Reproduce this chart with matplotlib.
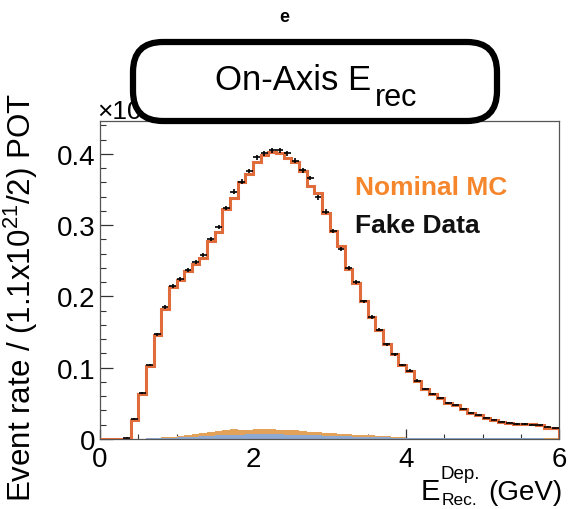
import numpy as np
import matplotlib
matplotlib.use("Agg")
import matplotlib.pyplot as plt
from matplotlib.patches import FancyBboxPatch
from matplotlib.ticker import MultipleLocator, FuncFormatter

plt.rcParams['font.family'] = ['Liberation Sans', 'DejaVu Sans']
plt.rcParams['mathtext.fontset'] = 'custom'
plt.rcParams['mathtext.rm'] = 'Liberation Sans'
plt.rcParams['mathtext.it'] = 'Liberation Sans:italic'
plt.rcParams['mathtext.bf'] = 'Liberation Sans:bold'

# ---- data (bins of 0.1 GeV from 0 to 6) ----
bin_edges = np.linspace(0.0, 6.0, 61)

nominal_mc = [0, 0, 0, 0.0, 0.027, 0.063, 0.103, 0.146, 0.182, 0.213,
              0.223, 0.235, 0.246, 0.254, 0.278, 0.291, 0.322, 0.338, 0.361, 0.372,
              0.389, 0.398, 0.402, 0.401, 0.394, 0.388, 0.376, 0.355, 0.345, 0.317,
              0.292, 0.271, 0.238, 0.219, 0.194, 0.171, 0.153, 0.133, 0.119, 0.104,
              0.096, 0.082, 0.070, 0.063, 0.057, 0.051, 0.047, 0.042, 0.037, 0.033,
              0.029, 0.027, 0.024, 0.022, 0.021, 0.021, 0.021, 0.019, 0.016, 0.015]

fake_data = [np.nan, np.nan, np.nan, 0.002, 0.028, 0.064, 0.104, 0.147, 0.185, 0.215,
             0.224, 0.237, 0.248, 0.258, 0.280, 0.297, 0.324, 0.347, 0.361, 0.376,
             0.395, 0.401, 0.405, 0.405, 0.401, 0.390, 0.377, 0.366, 0.339, 0.319,
             0.292, 0.266, 0.240, 0.220, 0.193, 0.171, 0.153, 0.133, 0.119, 0.104,
             0.096, 0.082, 0.070, 0.063, 0.057, 0.051, 0.047, 0.042, 0.037, 0.033,
             0.030, 0.027, 0.024, 0.023, 0.021, 0.021, 0.020, 0.019, 0.017, 0.015]

bkg_blue = [0, 0, 0, 0, 0, 0.0003, 0.0008, 0.0012, 0.0016, 0.002,
            0.0025, 0.003, 0.0035, 0.004, 0.0045, 0.005, 0.0058, 0.006, 0.0062, 0.0065,
            0.0068, 0.0068, 0.0066, 0.0064, 0.0062, 0.006, 0.0057, 0.0053, 0.005, 0.0047,
            0.0044, 0.004, 0.0037, 0.0034, 0.0031, 0.0028, 0.0025, 0.0022, 0.002, 0.0018,
            0.0016, 0.0015, 0.0014, 0.0013, 0.0012, 0.0012, 0.0011, 0.0011, 0.001, 0.001,
            0.001, 0.0009, 0.0009, 0.0009, 0.0008, 0.0008, 0.0008, 0.0008, 0.0007, 0.0007]

bkg_orange = [0, 0, 0, 0, 0, 0.0002, 0.0004, 0.0006, 0.0008, 0.001,
              0.0015, 0.0025, 0.003, 0.0045, 0.005, 0.006, 0.0072, 0.0075, 0.0066, 0.0067,
              0.0072, 0.007, 0.0069, 0.0066, 0.0066, 0.006, 0.0055, 0.005, 0.0045, 0.004,
              0.0036, 0.0032, 0.0029, 0.0028, 0.0027, 0.0022, 0.002, 0.0018, 0.0013, 0.0007,
              0.0004, 0.0003, 0.0002, 0.0002, 0.0002, 0.0001, 0.0002, 0.0001, 0.0002, 0.0001,
              0.0001, 0.0001, 0.0001, 0.0001, 0.0002, 0.0001, 0.0001, 0.0001, 0.0001, 0.0001]

x_ticks = [0, 2, 4, 6]
y_ticks = [0, 0.1, 0.2, 0.3, 0.4]

# ---- figure ----
W, H = 568, 510
fig = plt.figure(figsize=(W / 100, H / 100), dpi=100)
ax = fig.add_axes([100 / W, 1 - 440 / H, 459 / W, 318 / H])

centers = 0.5 * (bin_edges[:-1] + bin_edges[1:])
blue = np.array(bkg_blue)
orange = np.array(bkg_orange)

ax.stairs(blue + orange, bin_edges, baseline=blue, fill=True,
          color='#e3a25a', lw=0, zorder=2)
ax.stairs(blue, bin_edges, baseline=0, fill=True, color='#8eaad2', lw=0, zorder=2)
ax.stairs(nominal_mc, bin_edges, color='#e06c3c', lw=2.2, zorder=3)

data = np.array(fake_data)
yerr = 0.0055 * np.sqrt(np.nan_to_num(data))
ax.errorbar(centers, data, xerr=0.045, yerr=yerr, fmt='none', ecolor='black',
            elinewidth=1.2, capsize=0, zorder=4)

ax.set_xlim(0, 6)
ax.set_ylim(0, 0.446)
ax.set_xticks(x_ticks)
ax.set_yticks(y_ticks)
ax.xaxis.set_minor_locator(MultipleLocator(0.5))
ax.yaxis.set_minor_locator(MultipleLocator(0.02))
ax.yaxis.set_major_formatter(FuncFormatter(lambda v, p: '0' if abs(v) < 1e-9 else f'{v:.1f}'))
ax.xaxis.set_major_formatter(FuncFormatter(lambda v, p: f'{v:.0f}'))

ax.tick_params(axis='both', which='both', direction='in', labelsize=20, color='#333333')
ax.tick_params(axis='y', which='major', length=9.4, width=0.9, pad=3)
ax.tick_params(axis='y', which='minor', length=4.3, width=0.8)
ax.tick_params(axis='x', which='major', length=7.2, width=0.9, pad=5)
ax.tick_params(axis='x', which='minor', length=3.6, width=0.8)
for s in ax.spines.values():
    s.set_linewidth(0.9)
    s.set_color('#555555')

# legend text
ax.text((355 - 100) / 459, (440 - 188) / 318, 'Nominal MC', transform=ax.transAxes,
        color='#f5862c', fontsize=19, fontweight='bold', va='center', ha='left')
ax.text((355 - 100) / 459, (440 - 226) / 318, 'Fake Data', transform=ax.transAxes,
        color='#111111', fontsize=19, fontweight='bold', va='center', ha='left')

# axis titles
fig.text(21 / W, 1 - 298 / H, 'Event rate / (1.1x10$^{21}$/2) POT', rotation=90,
         fontsize=22.5, ha='center', va='center')
fig.text(421 / W, 1 - 500 / H, 'E', fontsize=21, ha='left', va='baseline')
fig.text(440 / W, 1 - 479 / H, 'Dep.', fontsize=13.5, ha='left', va='baseline')
fig.text(442 / W, 1 - 505 / H, 'Rec.', fontsize=12.5, ha='left', va='baseline')
fig.text(562 / W, 1 - 500 / H, '(GeV)', fontsize=20, ha='right', va='baseline')

# exponent label (partially covered by box)
fig.text(97 / W, 1 - 119 / H, '×10', fontsize=19, ha='left', va='baseline')

# panel letter
fig.text(284 / W, 1 - 22 / H, 'e', fontsize=13, fontweight='bold', ha='center', va='baseline')

# rounded title box
box = FancyBboxPatch((1.33, (H - 122) / 100), 3.64, 0.79,
                     boxstyle='round,pad=0,rounding_size=0.3',
                     transform=fig.dpi_scale_trans, fc='white', ec='black', lw=4.5, zorder=5)
fig.add_artist(box)
fig.text(215 / W, 1 - 90 / H, 'On-Axis E', fontsize=25,
         ha='left', va='baseline', zorder=6)
fig.text(375 / W, 1 - 106 / H, 'rec', fontsize=22,
         ha='left', va='baseline', zorder=6)

fig.savefig('out.png', dpi=100)
